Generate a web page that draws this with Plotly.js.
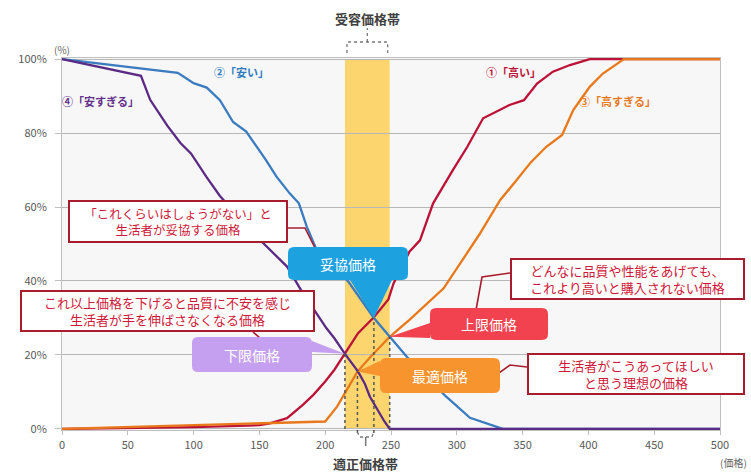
<!DOCTYPE html>
<html><head><meta charset="utf-8">
<script src="https://cdn.plot.ly/plotly-3.0.1.min.js"></script>
<style>html,body{margin:0;padding:0;background:#fff;}#chart{width:751px;height:474px;}</style>
</head><body><div id="chart"></div>
<script>
// ---- data ----
const expensivePrice = [0,100,150,158,171,183,191,200,207,215,225,237,248,252,264,272,282,297,308,320,340,351,361,373,386,401,500];
const expensivePct   = [0,0.5,1,1.5,2.9,6.5,9.2,12.8,16,20.3,25.9,30.2,35,39.4,47.9,51,61,70,76.3,84,87.6,88.9,93.4,96.6,98.4,100,100];
const cheapPrice = [0,88,100,110,120,130,140,155,163,173,180,186,193.5,217.7,237,249,262,277,292,310,322,335,500];
const cheapPct   = [100,96.3,93.5,92.3,88.9,83,80.4,72.7,68.2,63.7,61,54.7,48.4,39.8,30,24.9,19.5,14,8.7,3,1.5,0,0];
const tooExpPrice = [0,50,100,150,200,209,215,224.5,234,249,264,290,317,333,345.5,356,368,380,388.5,401,411,427,500];
const tooExpPct   = [0,0.5,1,1.5,2,6,9.7,15.5,19.3,24.9,29.5,38,52.5,61.9,67.3,72,76.3,79.5,86.2,92.5,96.1,100,100];
const tooCheapPrice = [0,60,67,80,90,98,110,120,135,153,171,183,192,201,207,215,225,230,234,239,245,249,500];
const tooCheapPct   = [100,95.5,89,82,77.3,74.5,68,63,57,50.2,43.9,36.7,32,27.2,24.5,20.3,15.5,12.3,8.7,5.6,2,0,0];

const seriesNames = ['①「高い」','②「安い」','③「高すぎる」','④「安すぎる」'];
const bandRange = [215, 249];
const pointNames = ['下限価格','最適価格','妥協価格','上限価格'];
const pointPrices = [215, 224.5, 237, 249];
const pointPct = [20.3, 15.5, 30, 24.9];
const pointNotes = [
  'これ以上価格を下げると品質に不安を感じ<br>生活者が手を伸ばさなくなる価格',
  '生活者がこうあってほしい<br>と思う理想の価格',
  '「これくらいはしょうがない」と<br>生活者が妥協する価格',
  'どんなに品質や性能をあげても、<br>これより高いと購入されない価格'
];
const bandTitleTop = '受容価格帯';
const bandTitleBottom = '適正価格帯';
const xTickVals = [0,50,100,150,200,250,300,350,400,450,500];
const yTickVals = [0,20,40,60,80,100];
const yTickText = ['0%','20%','40%','60%','80%','100%'];

// ---- geometry helpers ----
const W=751,H=474,L=62,R=31,T=58,B=44;
const PW=W-L-R, PH=H-T-B;
const XR=[0,500], YR=[-0.3,100.3];
const toPX = p => (p-L)/PW;
const toPY = p => (T+PH-p)/PH;
const dxPix = v => L+(v-XR[0])/(XR[1]-XR[0])*PW;
const dyPix = v => T+PH-(v-YR[0])/(YR[1]-YR[0])*PH;
const P = (x,y) => toPX(x).toFixed(5)+','+toPY(y).toFixed(5);

function callout(x0,y0,x1,y1,r,side,a,b,tip){
  let s='M'+P(x0+r,y0)+' L'+P(x1-r,y0)+' Q'+P(x1,y0)+' '+P(x1,y0+r);
  if(side==='right'){ s+=' L'+P(x1,a)+' L'+P(tip[0],tip[1])+' L'+P(x1,b); }
  s+=' L'+P(x1,y1-r)+' Q'+P(x1,y1)+' '+P(x1-r,y1);
  if(side==='bottom'){ s+=' L'+P(b,y1)+' L'+P(tip[0],tip[1])+' L'+P(a,y1); }
  s+=' L'+P(x0+r,y1)+' Q'+P(x0,y1)+' '+P(x0,y1-r);
  if(side==='left'){ s+=' L'+P(x0,b)+' L'+P(tip[0],tip[1])+' L'+P(x0,a); }
  s+=' L'+P(x0,y0+r)+' Q'+P(x0,y0)+' '+P(x0+r,y0)+' Z';
  return s;
}
function polyline(pts){ return pts.map((p,i)=>(i?'L':'M')+P(p[0],p[1])).join(' '); }

const FONT='"Noto Sans CJK JP","Noto Sans",sans-serif';
const colRed='#bd1238', colBlue='#3b7bbf', colOrange='#e8781a', colPurple='#5a2a84';

const traces = [
  {x:expensivePrice,y:expensivePct,name:seriesNames[0],line:{color:colRed,width:2.3}},
  {x:tooExpPrice,y:tooExpPct,name:seriesNames[2],line:{color:colOrange,width:2.3}},
  {x:cheapPrice,y:cheapPct,name:seriesNames[1],line:{color:colBlue,width:2.3}},
  {x:tooCheapPrice,y:tooCheapPct,name:seriesNames[3],line:{color:colPurple,width:2.3}}
].map(t=>Object.assign({type:'scatter',mode:'lines',hoverinfo:'skip'},t));

const tipPix = pointPrices.map((v,i)=>[dxPix(v), dyPix(pointPct[i])]);
const dotCol='#555555';
const bracketCol='#777777';
const bx0=dxPix(bandRange[0]), bx1=dxPix(bandRange[1]), bxm=(bx0+bx1)/2;
const ox0=dxPix(pointPrices[1]), ox1=dxPix(pointPrices[2]), oxm=(ox0+ox1)/2;

const shapes = [
  {type:'rect',xref:'x',yref:'y',x0:bandRange[0],x1:bandRange[1],y0:0,y1:100,fillcolor:'#fcd56e',line:{width:0},layer:'below'},
];
pointPrices.forEach((v,i)=>{
  const ext = (i===1||i===2);
  shapes.push({type:'line',xref:'x',yref:'paper',x0:v,x1:v,y0:toPY(ext?433:dyPix(0)),y1:toPY(dyPix(pointPct[i])),line:{color:dotCol,width:1.5,dash:'dot'}});
});
shapes.push({type:'path',xref:'paper',yref:'paper',path:polyline([[bx0+2,53],[bx0+2,42],[bx1-2,42],[bx1-2,53]]),line:{color:bracketCol,width:1.3,dash:'dot'}});
shapes.push({type:'path',xref:'paper',yref:'paper',path:polyline([[bxm,42],[bxm,28]]),line:{color:bracketCol,width:1.3,dash:'dot'}});
shapes.push({type:'path',xref:'paper',yref:'paper',path:polyline([[ox0,432],[ox0+2,437],[ox1-2,437],[ox1,432]]),line:{color:bracketCol,width:1.3,dash:'dot'}});
shapes.push({type:'path',xref:'paper',yref:'paper',path:polyline([[oxm,437],[oxm,446]]),line:{color:bracketCol,width:1.5}});
const conCol='#a81c2e';
[
  [[288,228],[305,228],[317,252]],
  [[253,332],[267,344]],
  [[476,310],[482,277],[510,273]],
  [[492,378],[510,365],[527,367]]
].forEach(pts=>shapes.push({type:'path',xref:'paper',yref:'paper',path:polyline(pts),line:{color:conCol,width:1.6}}));
const boxes = [
  {box:[192,337,312,372],side:'right',a:341,b:352,col:'#c6a0f0',tip:tipPix[0]},
  {box:[380,358,500,393],side:'left',a:361,b:376,col:'#f7942e',tip:tipPix[1]},
  {box:[288,247,408,280],side:'bottom',a:350,b:392,col:'#1ea2df',tip:tipPix[2]},
  {box:[430,308,548,340],side:'left',a:323,b:338,col:'#f2424f',tip:tipPix[3]}
];
boxes.forEach(o=>{
  shapes.push({type:'path',xref:'paper',yref:'paper',path:callout(o.box[0],o.box[1],o.box[2],o.box[3],6,o.side,o.a,o.b,o.tip),fillcolor:o.col,line:{width:0}});
});

const annotations = [];
boxes.forEach((o,i)=>{
  annotations.push({xref:'paper',yref:'paper',x:toPX((o.box[0]+o.box[2])/2),y:toPY((o.box[1]+o.box[3])/2),text:pointNames[i],showarrow:false,xanchor:'center',yanchor:'middle',font:{family:FONT,size:14,color:'#ffffff'}});
});
const noteBoxes = [[20,290,315,332,13],[527,353,745,395,13],[68,200,288,243,12.5],[510,258,745,300,13]];
noteBoxes.forEach((b,i)=>{
  annotations.push({xref:'paper',yref:'paper',x:toPX((b[0]+b[2])/2),y:toPY((b[1]+b[3])/2),text:pointNotes[i],showarrow:false,xanchor:'center',yanchor:'middle',
    width:b[2]-b[0]-4,height:b[3]-b[1]-4,borderpad:0,bgcolor:'#ffffff',bordercolor:'#a81c2e',borderwidth:2,align:'center',
    font:{family:FONT,size:b[4],color:'#d0183a'}});
});
[[513,72,colRed,0],[241,72,'#2f7cc0',1],[617,101,colOrange,2],[100,101,'#62308a',3]].forEach(s=>{
  annotations.push({xref:'paper',yref:'paper',x:toPX(s[0]),y:toPY(s[1]),text:'<b>'+seriesNames[s[3]]+'</b>',showarrow:false,xanchor:'center',yanchor:'middle',font:{family:FONT,size:11,color:s[2]}});
});
annotations.push({xref:'paper',yref:'paper',x:toPX(bxm),y:toPY(18),text:'<b>'+bandTitleTop+'</b>',showarrow:false,xanchor:'center',yanchor:'middle',font:{family:FONT,size:13,color:'#404040'}});
annotations.push({xref:'paper',yref:'paper',x:toPX(oxm),y:toPY(464),text:'<b>'+bandTitleBottom+'</b>',showarrow:false,xanchor:'center',yanchor:'middle',font:{family:FONT,size:13,color:'#404040'}});
annotations.push({xref:'paper',yref:'paper',x:toPX(62),y:toPY(49),text:'(%)',showarrow:false,xanchor:'center',yanchor:'middle',font:{family:FONT,size:10,color:'#666666'}});
annotations.push({xref:'paper',yref:'paper',x:toPX(733),y:toPY(462),text:'(価格)',showarrow:false,xanchor:'center',yanchor:'middle',font:{family:FONT,size:10,color:'#666666'}});

const layout = {
  width:W,height:H,margin:{l:L,r:R,t:T,b:B,pad:0},
  paper_bgcolor:'#ffffff',plot_bgcolor:'#f7f7f7',showlegend:false,
  font:{family:FONT,color:'#595959',size:11},
  xaxis:{range:XR,tickvals:xTickVals,showgrid:false,zeroline:false,showline:true,linecolor:'#bfbfbf',linewidth:1,mirror:true,
    ticks:'outside',ticklen:4,tickcolor:'#bfbfbf',ticklabelstandoff:1,tickfont:{family:FONT,size:11,color:'#595959'}},
  yaxis:{range:YR,tickvals:yTickVals,ticktext:yTickText,showgrid:true,gridcolor:'#b8b8b8',gridwidth:1,zeroline:false,showline:true,linecolor:'#bfbfbf',mirror:true,
    ticks:'outside',ticklen:6,tickcolor:'#bfbfbf',ticklabelstandoff:6,tickfont:{family:FONT,size:11,color:'#595959'}},
  shapes:shapes,annotations:annotations
};
Plotly.newPlot('chart',traces,layout,{staticPlot:true,displayModeBar:false});
</script></body></html>
